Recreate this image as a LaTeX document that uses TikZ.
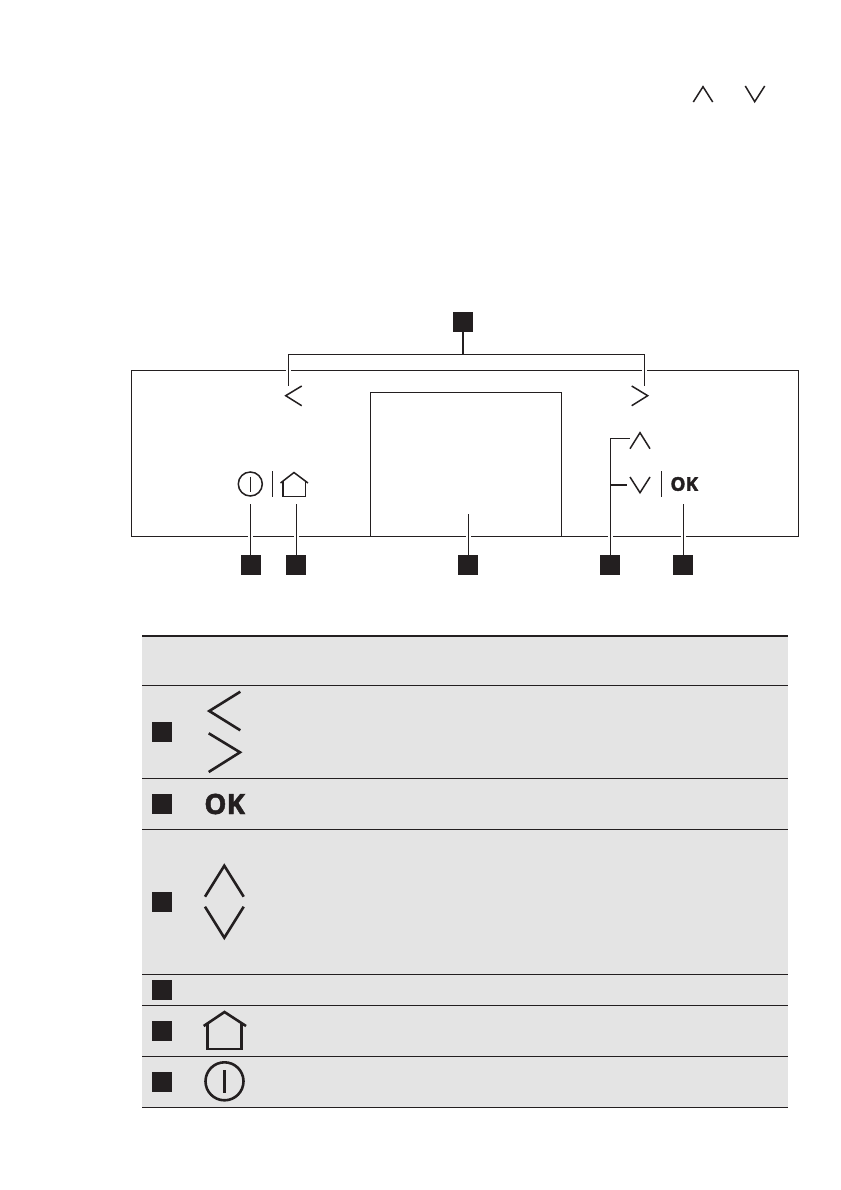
\documentclass[tikz,border=0pt]{standalone}
\usepackage{xcolor}
\usepackage{fontspec}
\setmainfont[BoldFeatures={FakeBold=1.6}]{Open Sans}
\definecolor{PanelInk}{HTML}{231F20}
\definecolor{TableFill}{HTML}{E4E4E4}
\tikzset{
  marker/.style={fill=PanelInk, minimum size=20pt, inner sep=0pt, outer sep=0pt},
  panelline/.style={PanelInk, line width=1.4pt},
  leader/.style={PanelInk, line width=1.4pt, preaction={draw, white, line width=4.6pt}},
  smallicon/.style={PanelInk, line width=1.5pt},
  bigicon/.style={PanelInk, line width=2.6pt},
  rowline/.style={PanelInk, line width=1.2pt},
  oktext/.style={text=PanelInk, inner sep=0pt, font=\bfseries}
}
\begin{document}
\begin{tikzpicture}[x=1pt,y=-1pt]
        \useasboundingbox[fill=white] (0,0) rectangle (840,1190);
        % chevrons in the text line
        \draw[smallicon] (693.3,102) -- (703,86.7) -- (712.7,102);
        \draw[smallicon] (745.3,86) -- (754.7,101.7) -- (764.7,86);
        % panel and display
        \draw[panelline] (131.5,370.5) rectangle (798.5,536.5);
        \draw[panelline] (370.5,536.5) -- (370.5,392.3) -- (561.3,392.3) -- (561.3,536.5);
        % markers
        \node[marker] (keyArrows) at (463,322) {};
        \node[marker] (keyPower) at (251,565) {};
        \node[marker] (keyHome) at (296,565) {};
        \node[marker] (keyDisplay) at (468,565) {};
        \node[marker] (keyUpDown) at (610,565) {};
        \node[marker] (keyOk) at (683,565) {};
        % leader ends
        \coordinate (arrowBar) at (463,354.3);
        \coordinate (leftBar) at (288.4,354.3);
        \coordinate (rightBar) at (644.3,354.3);
        \coordinate (leftEnd) at (288.4,385.5);
        \coordinate (rightEnd) at (644.3,385.5);
        \coordinate (powerEnd) at (250.4,504);
        \coordinate (homeEnd) at (296.4,504);
        \coordinate (displayEnd) at (468.3,514);
        \coordinate (okEnd) at (683.3,504);
        \coordinate (upCorner) at (610.3,438.3);
        \coordinate (upEnd) at (629.7,438.3);
        \coordinate (downJoin) at (610.3,485);
        \coordinate (downEnd) at (627,485);
        \draw[leader] (keyArrows.south) -- (arrowBar) (leftEnd) -- (leftBar) -- (rightBar) -- (rightEnd);
        \draw[leader] (keyPower.north -| powerEnd) -- (powerEnd);
        \draw[leader] (keyHome.north -| homeEnd) -- (homeEnd);
        \draw[leader] (keyDisplay.north -| displayEnd) -- (displayEnd);
        \draw[leader] (keyOk.north -| okEnd) -- (okEnd);
        \draw[leader] (keyUpDown.north -| upCorner) -- (upCorner) -- (upEnd) (downJoin) -- (downEnd);
        % panel icons
        \draw[smallicon] (301.7,386) -- (285.7,395.7) -- (301.7,405.7);
        \draw[smallicon] (631.7,386) -- (647.7,395.7) -- (631.7,405.7);
        \draw[smallicon] (630,448.7) -- (640,432.7) -- (650,448.7);
        \draw[smallicon] (630,477) -- (640,492.7) -- (650,477);
        \draw[panelline] (661.3,471.3) -- (661.3,496.7);
        \draw[panelline] (272.7,471.3) -- (272.7,496.7);
        \draw[smallicon] (250.3,484) circle (12);
        \draw[smallicon] (250.3,476.7) -- (250.3,492);
        \draw[smallicon] (280.5,483) -- (294,472.5) -- (308,483);
        \draw[smallicon] (282.8,480.5) -- (282.8,496.4) -- (305.3,496.4) -- (305.3,480.5);
        \node[oktext, font=\fontsize{19pt}{19pt}\bfseries] (okKey) at (684.3,484) {OK};
        % table
        \fill[TableFill] (142,636) rectangle (788,1107.3);
        \draw[PanelInk, line width=2.2pt] (142,636) -- (788,636);
        \foreach \y in {685.4,778.4,829.5,974.4,1005.4,1056.4,1107.4} {
          \draw[rowline] (142,\y) -- (788,\y);
        }
        \foreach \y/\name in {732/rowArrows,804/rowOk,902/rowUpDown,990/rowDisplay,1031/rowHome,1082/rowPower} {
          \node[marker] (\name) at (162,\y) {};
        }
        % table icons
        \draw[bigicon] (240.3,691.7) -- (209.3,711) -- (240.3,730.3);
        \draw[bigicon] (208.7,733.3) -- (240,752.3) -- (208.7,772);
        \node[oktext, font=\fontsize{28pt}{28pt}\bfseries] (okBig) at (224.7,804) {OK};
        \draw[bigicon] (205,896.7) -- (224.3,865.7) -- (243.7,896.7);
        \draw[bigicon] (205,906.7) -- (224.3,937.7) -- (243.7,906.7);
        \draw[bigicon] (203.7,1026) -- (224.5,1012) -- (246,1026);
        \draw[bigicon] (207.3,1023) -- (207.3,1049) -- (241.7,1049) -- (241.7,1023);
        \draw[bigicon] (224.5,1081.3) circle (19);
        \draw[bigicon] (224.5,1070) -- (224.5,1093);
      \end{tikzpicture}
\end{document}
